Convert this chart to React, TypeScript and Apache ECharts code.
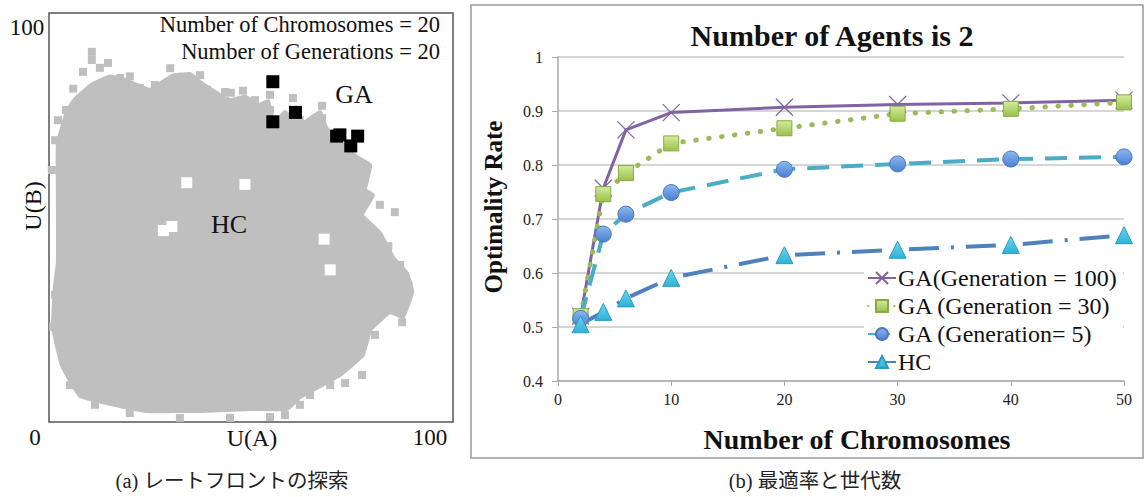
import React, { useEffect, useRef } from "react";
import * as echarts from "echarts";

// ---------- Panel (b) data ----------
const chromosomes = [2, 4, 6, 10, 20, 30, 40, 50];
const ga100 = [0.52, 0.757, 0.865, 0.897, 0.907, 0.912, 0.915, 0.92];
const ga30 = [0.52, 0.746, 0.785, 0.84, 0.868, 0.895, 0.904, 0.916];
const ga5 = [0.516, 0.672, 0.709, 0.749, 0.792, 0.802, 0.811, 0.815];
const hc = [0.505, 0.528, 0.553, 0.591, 0.633, 0.643, 0.652, 0.67];
const seriesNames = ["GA(Generation = 100)", "GA (Generation = 30)", "GA (Generation= 5)", "HC"];

// ---------- Panel (a) data ----------
// outline of the dense HC cloud (U(A), U(B))
const cloudA = [2.2, 4.5, 6.5, 10.6, 12.6, 15.1, 18.8, 25.0, 30.4, 34.9, 37.4, 41.1, 44.8, 48.5, 52.2, 54.2, 55.7, 58.4, 62.1, 67.1, 68.6, 72.0, 76.2, 79.5, 78.2, 80.2, 77.5, 81.9, 85.1, 88.6, 89.9, 87.6, 84.4, 79.5, 77.7, 72.0, 62.1, 58.9, 50.5, 37.4, 24.3, 17.6, 7.7, 3.2, 1.0, 1.5, 2.2, 2.2];
const cloudB = [68.2, 76.0, 79.0, 82.5, 83.5, 84.5, 83.6, 81.2, 84.6, 85.1, 83.1, 80.7, 78.7, 79.5, 77.5, 78.5, 72.6, 75.8, 72.6, 75.8, 71.9, 68.5, 64.8, 62.8, 56.7, 55.5, 50.6, 46.2, 40.3, 36.4, 31.8, 25.7, 26.9, 22.5, 16.4, 11.5, 6.1, 3.2, 3.2, 2.7, 2.7, 3.9, 6.4, 13.9, 23.2, 33.5, 38.9, 55.0];
// isolated HC samples scattered around the cloud edge
const hcOutA = [85.6, 87.4, 77.5, 73.3, 62.1, 58.4, 14.6, 37.4, 60.4, 67.6, 54.7, 82.9, 1.5, 1.0, 10.6, 10.6, 8.4, 12.6, 17.6, 22.5, 26.2, 31.9, 39.1, 43.6, 51.0, 54.7, 62.1, 67.6, 1.5, 0.7, 2.2, 4.2, 81.9, 83.9, 86.9, 88.9, 86.4, 80.7, 75.7, 69.6, 64.6, 54.7, 44.8, 32.4, 20.0, 11.4, 5.2, 6.0, 20.0, 45.0, 89.0, 84.0, 30.0, 48.0];
const hcOutB = [51.3, 24.4, 11.5, 9.5, 4.2, 1.7, 87.8, 84.8, 79.2, 77.3, 80.0, 37.2, 31.1, 23.2, 90.5, 88.5, 85.6, 86.6, 84.1, 81.7, 82.4, 84.1, 81.2, 80.7, 78.7, 76.3, 73.8, 74.3, 68.9, 61.6, 73.8, 76.3, 53.1, 42.1, 38.4, 33.5, 29.8, 21.3, 17.6, 9.0, 6.6, 1.2, 1.0, 1.0, 2.2, 4.2, 9.0, 81.5, 84.5, 80.5, 33.0, 43.0, 86.5, 81.0];
// empty spots inside the cloud
const holeA = [34.1, 48.5, 28.3, 30.4, 68.1, 69.6];
const holeB = [58.5, 58.1, 46.8, 47.8, 44.7, 37.2];
// GA results
const gaA = [55.4, 55.4, 61.0, 71.2, 72.0, 76.4, 74.7];
const gaB = [83.2, 73.4, 75.7, 69.9, 70.2, 69.9, 67.5];

const SERIF = "Liberation Serif, serif";
const CJK = "Liberation Serif, Noto Sans CJK JP, sans-serif";

function grad(top: string, bottom: string) {
  return new echarts.graphic.LinearGradient(0, 0, 0, 1, [
    { offset: 0, color: top },
    { offset: 1, color: bottom },
  ]);
}

function txt(text: string, x: number, y: number, size: number, opts: any = {}) {
  return {
    type: "text",
    x,
    y,
    z: 100,
    rotation: opts.rotation || 0,
    style: {
      text,
      fontFamily: opts.family || SERIF,
      fontSize: size,
      fontWeight: opts.bold ? "bold" : "normal",
      fill: opts.color || "#111",
      align: opts.align || "center",
      verticalAlign: "middle",
    },
  };
}

export default function App() {
  const ref = useRef<HTMLDivElement>(null);

  useEffect(() => {
    document.body.style.margin = "0";
    if (!ref.current) return;
    const chart = echarts.init(ref.current, undefined, { renderer: "svg" });

    const pairs = (a: number[], b: number[]) => a.map((v, i) => [v, b[i]]);
    const line = (vals: number[]) => chromosomes.map((c, i) => [c, vals[i]]);

    chart.setOption({
      animation: false,
      backgroundColor: "#fff",
      textStyle: { fontFamily: SERIF },
      grid: [
        { left: 49, top: 13, width: 404, height: 409, show: true, borderColor: "#555", borderWidth: 1.5, backgroundColor: "transparent" },
        { left: 558, top: 57, width: 566, height: 324 },
      ],
      xAxis: [
        { gridIndex: 0, type: "value", min: 0, max: 100, axisLine: { show: false }, axisTick: { show: false }, axisLabel: { show: false }, splitLine: { show: false } },
        {
          gridIndex: 1, type: "value", min: 0, max: 50, interval: 10,
          axisLine: { show: true, lineStyle: { color: "#aaa", width: 1.5 } },
          axisTick: { show: true, length: 5, lineStyle: { color: "#aaa" } },
          axisLabel: { fontFamily: SERIF, fontSize: 16, color: "#222", margin: 10 },
          splitLine: { show: false },
        },
      ],
      yAxis: [
        { gridIndex: 0, type: "value", min: 0, max: 100, axisLine: { show: false }, axisTick: { show: false }, axisLabel: { show: false }, splitLine: { show: false } },
        {
          gridIndex: 1, type: "value", min: 0.4, max: 1, interval: 0.1,
          axisLine: { show: true, lineStyle: { color: "#aaa", width: 1.5 } },
          axisTick: { show: true, length: 6, lineStyle: { color: "#aaa" } },
          axisLabel: { fontFamily: SERIF, fontSize: 16, color: "#222", margin: 15, formatter: (v: number) => String(Math.round(v * 10) / 10) },
          splitLine: { show: true, lineStyle: { color: "#c8c8c8", width: 1.5 } },
        },
      ],
      legend: {
        data: seriesNames,
        orient: "vertical",
        left: 864,
        top: 263,
        padding: [3, 6, 3, 3],
        backgroundColor: "#fff",
        itemWidth: 28,
        itemHeight: 15,
        itemGap: 4,
        textStyle: { fontFamily: SERIF, fontSize: 24, color: "#111", padding: [0, 0, 0, -3] },
      },
      series: [
        {
          type: "custom",
          xAxisIndex: 0,
          yAxisIndex: 0,
          silent: true,
          data: [[0, 0]],
          renderItem: (_p: any, api: any) => ({
            type: "polygon",
            shape: { points: cloudA.map((a, i) => api.coord([a, cloudB[i]])), smooth: 0.1 },
            style: { fill: "#bfbfbf", stroke: "#bfbfbf", lineWidth: 4 },
          }),
        },
        { type: "scatter", xAxisIndex: 0, yAxisIndex: 0, symbol: "rect", symbolSize: 8, itemStyle: { color: "#bfbfbf", opacity: 1 }, data: pairs(hcOutA, hcOutB) },
        { type: "scatter", xAxisIndex: 0, yAxisIndex: 0, symbol: "rect", symbolSize: 11, itemStyle: { color: "#ffffff", opacity: 1 }, data: pairs(holeA, holeB) },
        { type: "scatter", xAxisIndex: 0, yAxisIndex: 0, symbol: "rect", symbolSize: 13, itemStyle: { color: "#000000", opacity: 1 }, data: pairs(gaA, gaB) },
        {
          name: seriesNames[0], type: "line", xAxisIndex: 1, yAxisIndex: 1, data: line(ga100),
          symbol: "path://M0,0L10,10M0,10L10,0", symbolSize: 17,
          itemStyle: { color: "#8064A2", borderColor: "#8064A2", borderWidth: 1.2 },
          lineStyle: { color: "#8064A2", width: 3 },
        },
        {
          name: seriesNames[1], type: "line", xAxisIndex: 1, yAxisIndex: 1, data: line(ga30),
          symbol: "rect", symbolSize: 15,
          itemStyle: { color: grad("#d4ec9c", "#98c24a"), borderColor: "#89ab45", borderWidth: 1 },
          lineStyle: { color: "#9BBB59", width: 5, type: [0.5, 12.5], cap: "round" },
        },
        {
          name: seriesNames[2], type: "line", xAxisIndex: 1, yAxisIndex: 1, data: line(ga5),
          symbol: "circle", symbolSize: 16,
          itemStyle: { color: grad("#8ab8f0", "#4a7fd2"), borderColor: "#4a78b8", borderWidth: 1 },
          lineStyle: { color: "#4BACC6", width: 4, type: [22, 12] },
        },
        {
          name: seriesNames[3], type: "line", xAxisIndex: 1, yAxisIndex: 1, data: line(hc),
          symbol: "triangle", symbolSize: 17,
          itemStyle: { color: grad("#6ad6f0", "#2fb0d8"), borderColor: "#2a9cc0", borderWidth: 1 },
          lineStyle: { color: "#4F81BD", width: 4, type: [30, 12, 3, 12] },
        },
      ],
      graphic: [
        { type: "rect", z: 0, shape: { x: 471, y: 5, width: 672, height: 453 }, style: { fill: "none", stroke: "#999", lineWidth: 1.5 } },
        // panel (a)
        txt("100", 27, 27, 23),
        txt("0", 35, 437, 23),
        txt("100", 430, 437, 23),
        txt("U(A)", 252, 438, 24),
        txt("U(B)", 33, 206, 24, { rotation: Math.PI / 2 }),
        txt("Number of Chromosomes = 20", 440, 24, 22.5, { align: "right" }),
        txt("Number of Generations = 20", 440, 51, 22.5, { align: "right" }),
        txt("GA", 354, 94, 26),
        txt("HC", 229, 224, 26),
        // panel (b)
        txt("Number of Agents is 2", 832, 35, 30, { bold: true }),
        txt("Optimality Rate", 493, 207, 25, { bold: true, rotation: Math.PI / 2 }),
        txt("Number of Chromosomes", 857, 439, 28, { bold: true }),
        // captions
        txt("(a) レートフロントの探索", 232, 481, 20.5, { family: CJK, color: "#222" }),
        txt("(b) 最適率と世代数", 815, 481, 20.5, { family: CJK, color: "#222" }),
      ],
    });

    return () => chart.dispose();
  }, []);

  return <div ref={ref} style={{ width: 1145, height: 497 }} />;
}
